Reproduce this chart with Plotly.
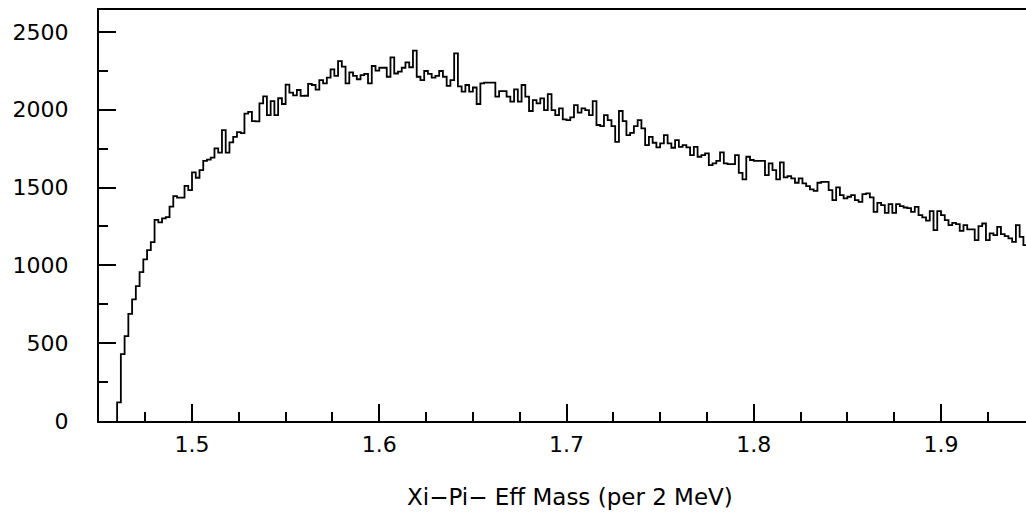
import plotly.graph_objects as go

# Histogram: Xi-Pi- effective mass, 2 MeV bins starting at 1.460 GeV
bin_start = 1.460
bin_width = 0.002
counts = [
    120, 430, 545, 688, 782, 867, 956, 1038, 1098, 1150,
    1293, 1276, 1302, 1310, 1378, 1445, 1435, 1435, 1511, 1484,
    1597, 1563, 1612, 1672, 1680, 1693, 1752, 1724, 1869, 1724,
    1790, 1826, 1856, 1850, 1975, 1987, 1927, 1925, 2041, 2086,
    1966, 2055, 1966, 2074, 2037, 2161, 2110, 2093, 2127, 2089,
    2090, 2166, 2159, 2129, 2190, 2170, 2207, 2260, 2218, 2313,
    2277, 2170, 2240, 2218, 2196, 2223, 2230, 2170, 2281, 2252,
    2270, 2270, 2212, 2337, 2233, 2245, 2270, 2304, 2273, 2380,
    2212, 2190, 2249, 2230, 2207, 2218, 2249, 2212, 2153, 2190,
    2362, 2150, 2116, 2159, 2116, 2143, 2037, 2170, 2174, 2174,
    2174, 2084, 2120, 2120, 2084, 2052, 2131, 2052, 2159, 2084,
    1992, 2062, 2041, 2073, 1998, 2101, 1998, 1966, 2009, 1938,
    1934, 1951, 2030, 1981, 2009, 1998, 1966, 2056, 1902, 1895,
    1966, 1934, 1895, 1794, 1992, 1927, 1837, 1852, 1895, 1934,
    1880, 1773, 1826, 1788, 1758, 1784, 1837, 1784, 1756, 1805,
    1762, 1773, 1758, 1709, 1762, 1698, 1709, 1720, 1644, 1655,
    1672, 1726, 1655, 1651, 1651, 1709, 1595, 1552, 1698, 1677,
    1672, 1672, 1672, 1580, 1655, 1612, 1552, 1662, 1565, 1574,
    1559, 1531, 1559, 1527, 1509, 1488, 1479, 1531, 1537, 1537,
    1484, 1419, 1501, 1452, 1430, 1441, 1452, 1419, 1408, 1458,
    1463, 1437, 1344, 1402, 1387, 1338, 1393, 1338, 1393, 1381,
    1372, 1368, 1344, 1376, 1323, 1308, 1287, 1349, 1226, 1349,
    1323, 1291, 1259, 1273, 1265, 1222, 1259, 1231, 1231, 1162,
    1252, 1269, 1162, 1205, 1194, 1248, 1201, 1188, 1173, 1151,
    1259, 1183, 1130,
]
x_ticks = [1.5, 1.6, 1.7, 1.8, 1.9]
x_tick_labels = ["1.5", "1.6", "1.7", "1.8", "1.9"]
y_ticks = [0, 500, 1000, 1500, 2000, 2500]
y_tick_labels = ["0", "500", "1000", "1500", "2000", "2500"]
x_title = "Xi\u2212Pi\u2212 Eff Mass (per 2 MeV)"

edges = [round(bin_start + i * bin_width, 4) for i in range(len(counts) + 1)]
xs = [edges[0]] + edges
ys = [0] + counts + [counts[-1]]

FONT = "DejaVu Sans"

fig = go.Figure()
fig.add_trace(go.Scatter(
    x=xs, y=ys, mode="lines", line=dict(shape="hv", color="black", width=1.8),
    hoverinfo="skip", showlegend=False,
))

fig.update_layout(
    width=1026, height=516,
    margin=dict(l=99, r=0, t=10, b=95),
    paper_bgcolor="white", plot_bgcolor="white",
    font=dict(family=FONT, size=22, color="black"),
    showlegend=False,
    xaxis=dict(
        range=[1.45033, 1.94539],
        tickmode="array", tickvals=x_ticks, ticktext=x_tick_labels,
        ticks="inside", ticklen=17, tickwidth=1.5, tickcolor="black",
        minor=dict(ticks="inside", ticklen=9, tickwidth=1.5, tickcolor="black",
                   tickmode="linear", tick0=1.45, dtick=0.025),
        showline=True, linecolor="black", linewidth=2, mirror=True,
        showgrid=False, zeroline=False,
        ticklabelstandoff=3,
        tickfont=dict(family=FONT, size=22, color="black"),
    ),
    yaxis=dict(
        range=[0, 2641],
        tickmode="array", tickvals=y_ticks, ticktext=y_tick_labels,
        ticks="inside", ticklen=17, tickwidth=2, tickcolor="black",
        minor=dict(ticks="inside", ticklen=9, tickwidth=1.5, tickcolor="black",
                   tickmode="linear", tick0=0, dtick=250),
        showline=True, linecolor="black", linewidth=2,
        showgrid=False, zeroline=False,
        ticklabelstandoff=24,
        tickfont=dict(family=FONT, size=22, color="black"),
    ),
    annotations=[dict(
        text=x_title, xref="paper", yref="paper",
        x=0.5085, y=-0.185, xanchor="center", yanchor="middle",
        showarrow=False, font=dict(family=FONT, size=23, color="black"),
    )],
)

fig.write_html("out.html")
